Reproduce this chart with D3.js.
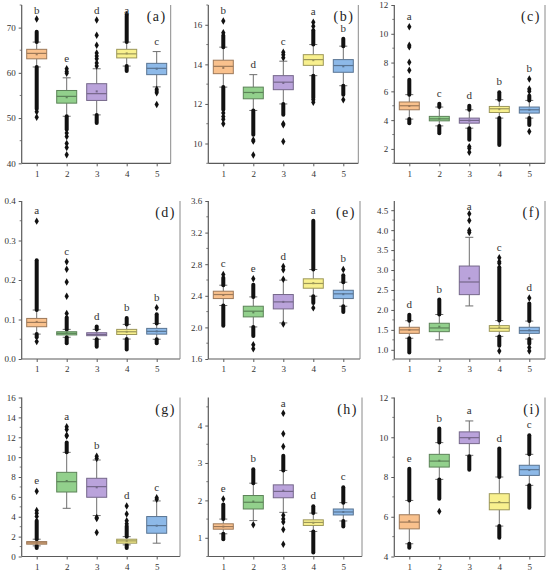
<!DOCTYPE html>
<html>
<head>
<meta charset="utf-8">
<script src="https://cdn.jsdelivr.net/npm/d3@7"></script>
<style>
  body { margin: 0; background: #fff; }
  text { font-family: "Liberation Serif", "Times New Roman", serif; }
</style>
</head>
<body>
<div id="chart"></div>
<script>
// groups on x axis
var groups = ["1", "2", "3", "4", "5"];
var boxColors = ["#f9c18d", "#92d08c", "#baa3db", "#f8f08e", "#8db9e8"];

var panelNames = ["(a)", "(b)", "(c)", "(d)", "(e)", "(f)", "(g)", "(h)", "(i)"];
var yDomains = [[40, 75], [9, 17], [1, 12], [0, 0.4], [1.6, 3.6], [0.77, 4.73], [0, 16], [0.5, 4.75], [4, 12]];
var yTicks = [
  [40, 50, 60, 70], [10, 12, 14, 16], [2, 4, 6, 8, 10, 12],
  [0, 0.1, 0.2, 0.3, 0.4], [1.6, 2.0, 2.4, 2.8, 3.2, 3.6], [1.0, 1.5, 2.0, 2.5, 3.0, 3.5, 4.0, 4.5],
  [0, 2, 4, 6, 8, 10, 12, 14, 16], [1, 2, 3, 4], [4, 6, 8, 10, 12]
];
var yMinorTicks = [
  [45, 55, 65, 75], [9, 11, 13, 15, 17], [1, 3, 5, 7, 9, 11],
  [0.05, 0.15, 0.25, 0.35], [1.8, 2.2, 2.6, 3.0, 3.4], [0.75, 1.25, 1.75, 2.25, 2.75, 3.25, 3.75, 4.25],
  [1, 3, 5, 7, 9, 11, 13, 15], [0.5, 1.5, 2.5, 3.5, 4.5], [5, 7, 9, 11]
];
var tickFormats = ["d", "d", "d", ".1f", ".1f", ".1f", "d", "d", "d"];

// per group: [whisker low, Q1, median, Q3, whisker high, mean]
var statsA = [[61.3, 63.1, 64.3, 65.2, 66.8, 64.1], [50.4, 53.3, 54.8, 56.1, 58.9, 54.6], [50.7, 53.9, 55.4, 57.6, 60.9, 55.9], [61.5, 63.3, 64.2, 65.2, 66.8, 64.3], [56.9, 59.6, 61.0, 62.1, 64.7, 60.9]];
var runsA = [[[66.8, 69.1], [52.0, 61.3]], [[47.5, 50.4]], [[48.9, 50.7]], [[66.8, 72.6], [60.4, 61.5]], []];
var pointsA = [[71.9, 51.4, 50.2], [59.9, 60.3, 60.9, 46.7, 45.9, 44.4, 43.5, 41.9], [61.5, 62.2, 63.1, 63.7, 64.4, 66.1, 68.3, 71.7], [72.9], [56.4, 56.0, 55.6, 53.0]];
var lettersA = ["b", "e", "d", "a", "c"];

var statsB = [[12.85, 13.53, 13.9, 14.21, 14.87, 13.82], [11.67, 12.26, 12.58, 12.85, 13.48, 12.55], [12.0, 12.72, 13.1, 13.43, 14.16, 13.06], [13.43, 13.95, 14.24, 14.49, 15.0, 14.21], [12.92, 13.6, 13.94, 14.24, 14.92, 13.9]];
var runsB = [[[14.87, 15.46], [11.7, 12.85]], [[10.44, 11.67]], [[11.45, 12.0]], [[15.0, 15.73], [12.3, 13.43]], [[14.92, 15.29], [12.47, 12.92]]];
var pointsB = [[15.6, 16.19, 11.54, 11.37, 11.23, 11.0], [10.18, 10.12, 9.42], [14.33, 14.49, 14.61, 11.0, 10.95, 10.1], [15.93, 16.13, 12.21, 12.08], [12.21]];
var lettersB = ["b", "d", "c", "a", "b"];

var statsC = [[4.07, 4.72, 5.0, 5.26, 5.77, 4.98], [3.6, 3.95, 4.09, 4.26, 4.91, 4.1], [3.44, 3.79, 3.98, 4.14, 4.72, 3.97], [4.14, 4.53, 4.79, 4.95, 5.42, 4.76], [4.14, 4.49, 4.72, 4.91, 5.37, 4.72]];
var runsC = [[[5.77, 6.81], [3.79, 4.07]], [[4.91, 5.14], [3.09, 3.6]], [[4.72, 5.0], [2.63, 3.44]], [[5.42, 5.93], [2.28, 4.14]], [[5.37, 5.7], [3.67, 4.14]]];
var pointsC = [[7.47, 8.02, 9.09, 9.2, 10.49], [], [2.16, 2.05, 1.77], [], [6.0, 6.16, 6.86, 3.21]];
var lettersC = ["a", "c", "d", "b", "b"];

var statsD = [[0.063, 0.0817, 0.0926, 0.1027, 0.124, 0.094], [0.055, 0.061, 0.065, 0.069, 0.075, 0.066], [0.05, 0.059, 0.062, 0.0665, 0.075, 0.062], [0.0505, 0.062, 0.069, 0.075, 0.0876, 0.069], [0.05, 0.063, 0.07, 0.0775, 0.09, 0.07]];
var runsD = [[[0.124, 0.25], [0.055, 0.063]], [[0.075, 0.105], [0.04, 0.055]], [[0.075, 0.082], [0.031, 0.05]], [[0.0876, 0.104], [0.024, 0.0505]], [[0.09, 0.113], [0.04, 0.05]]];
var pointsD = [[0.349, 0.044], [0.115, 0.159, 0.195, 0.227, 0.246], [], [], [0.13]];
var lettersD = ["a", "c", "d", "b", "b"];

var statsE = [[2.277, 2.365, 2.416, 2.458, 2.534, 2.41], [2.006, 2.133, 2.205, 2.268, 2.386, 2.19], [2.057, 2.234, 2.323, 2.416, 2.598, 2.323], [2.395, 2.496, 2.556, 2.615, 2.733, 2.56], [2.268, 2.365, 2.425, 2.47, 2.572, 2.42]];
var runsE = [[[2.534, 2.63], [2.02, 2.277]], [[2.386, 2.54], [1.89, 2.006]], [], [[2.733, 3.35], [2.31, 2.395]], [[2.572, 2.66], [2.196, 2.268]]];
var pointsE = [[2.67], [2.615, 1.78, 1.73], [2.61, 2.73, 2.77, 2.044], [2.247], [2.733]];
var lettersE = ["c", "e", "d", "a", "b"];

var statsF = [[1.29, 1.413, 1.5, 1.565, 1.73, 1.5], [1.25, 1.455, 1.548, 1.666, 1.885, 1.58], [2.1, 2.383, 2.70, 3.1, 3.82, 2.79], [1.337, 1.464, 1.54, 1.607, 1.733, 1.56], [1.27, 1.413, 1.48, 1.565, 1.72, 1.49]];
var runsF = [[[1.73, 1.88], [0.93, 1.29]], [[1.885, 2.26]], [], [[1.733, 3.07], [1.1, 1.337]], [[1.72, 2.16], [1.15, 1.27]]];
var pointsF = [[], [], [3.94, 3.99, 4.24, 4.41], [3.17, 3.21, 3.31, 0.97], [2.3, 1.06, 0.97]];
var lettersF = ["d", "b", "a", "c", "d"];

var statsG = [[1.07, 1.24, 1.37, 1.5, 1.74, 1.38], [4.85, 6.49, 7.53, 8.47, 10.48, 7.6], [4.12, 5.96, 7.03, 7.87, 9.71, 6.96], [1.17, 1.34, 1.57, 1.74, 2.0, 1.57], [1.34, 2.34, 3.11, 4.02, 5.59, 3.1]];
var runsG = [[[1.74, 3.61], [0.85, 1.07]], [[10.48, 11.48]], [], [[2.0, 3.08], [0.85, 1.17]], []];
var pointsG = [[4.02, 4.35, 4.62, 6.56], [12.12, 12.2, 12.79, 13.05], [9.87, 10.1, 3.92, 3.82, 2.41], [3.3, 3.6, 4.28, 5.09], [5.76, 5.92]];
var lettersG = ["e", "a", "b", "d", "c"];

var statsH = [[1.107, 1.23, 1.30, 1.374, 1.5, 1.3], [1.46, 1.77, 1.95, 2.13, 2.46, 1.97], [1.68, 2.07, 2.24, 2.415, 2.8, 2.26], [1.17, 1.33, 1.41, 1.48, 1.66, 1.4], [1.45, 1.61, 1.69, 1.77, 1.94, 1.69]];
var runsH = [[[1.5, 1.89], [0.96, 1.107]], [[2.46, 2.83]], [[2.8, 3.19]], [[1.66, 1.84], [0.61, 1.17]], [[1.94, 2.35], [1.3, 1.45]]];
var pointsH = [[2.04], [1.347], [3.44, 3.78, 4.33, 1.6, 1.5, 1.42, 1.22, 0.83], [], []];
var lettersH = ["e", "b", "a", "d", "c"];

var statsI = [[4.64, 5.39, 5.73, 6.1, 6.82, 5.78], [7.88, 8.5, 8.8, 9.14, 9.73, 8.82], [9.09, 9.68, 9.98, 10.27, 10.82, 9.93], [5.53, 6.35, 6.71, 7.16, 8.0, 6.74], [7.58, 8.08, 8.37, 8.59, 9.14, 8.35]];
var runsI = [[[6.82, 8.42], [4.44, 4.64]], [[9.73, 10.44], [6.9, 7.88]], [[8.37, 9.04]], [[8.0, 9.43], [4.94, 5.53]], [[9.14, 10.1], [6.45, 7.58]]];
var pointsI = [[], [6.27], [], [], []];
var lettersI = ["e", "b", "a", "d", "c"];

var allStats = [statsA, statsB, statsC, statsD, statsE, statsF, statsG, statsH, statsI];
var allRuns = [runsA, runsB, runsC, runsD, runsE, runsF, runsG, runsH, runsI];
var allPoints = [pointsA, pointsB, pointsC, pointsD, pointsE, pointsF, pointsG, pointsH, pointsI];
var allLetters = [lettersA, lettersB, lettersC, lettersD, lettersE, lettersF, lettersG, lettersH, lettersI];

// layout of the 3x3 grid
var colLeft = [21.7, 208.3, 394.3];
var panelRight = [170.7, 358.3, 545, 180, 360, 545, 180, 362, 545];
var rowTop = [5, 201, 397.5];
var rowBottom = [163.3, 359, 556.5];

function drawPanel(svg, p) {
  var axisColor = "#5a5a5a";
  var col = p % 3, row = Math.floor(p / 3);
  var x0 = colLeft[col], x1 = panelRight[p];
  var y0 = rowTop[row], y1 = rowBottom[row];

  var x = d3.scalePoint().domain(groups).range([x0, x0 + 150]).padding(0.5);
  var y = d3.scaleLinear().domain(yDomains[p]).range([y1, y0]);

  var g = svg.append("g");

  // left axis
  var yAxis = d3.axisLeft(y).tickValues(yTicks[p]).tickSize(3).tickPadding(3)
                .tickFormat(d3.format(tickFormats[p]));
  var ya = g.append("g").attr("transform", "translate(" + x0 + ",0)").call(yAxis);
  ya.select(".domain").remove();
  ya.selectAll("line").attr("stroke", axisColor);
  ya.selectAll("text").attr("font-size", "9px").attr("fill", "#333")
    .attr("font-family", "Liberation Serif, serif");

  g.selectAll(".minor").data(yMinorTicks[p]).enter().append("line")
   .attr("x1", x0 - 2).attr("x2", x0)
   .attr("y1", function (d) { return y(d); }).attr("y2", function (d) { return y(d); })
   .attr("stroke", axisColor).attr("stroke-width", 0.8);

  // bottom axis
  var xAxis = d3.axisBottom(x).tickSize(3).tickPadding(4);
  var xa = g.append("g").attr("transform", "translate(0," + y1 + ")").call(xAxis);
  xa.select(".domain").remove();
  xa.selectAll("line").attr("stroke", axisColor);
  xa.selectAll("text").attr("font-size", "9px").attr("fill", "#333")
    .attr("font-family", "Liberation Serif, serif");

  // frame: left, bottom and right lines
  g.append("line").attr("x1", x0).attr("x2", x0).attr("y1", y0).attr("y2", y1)
   .attr("stroke", axisColor).attr("stroke-width", 1.2);
  g.append("line").attr("x1", x0).attr("x2", x1).attr("y1", y1).attr("y2", y1)
   .attr("stroke", axisColor).attr("stroke-width", 1.2);
  g.append("line").attr("x1", x1).attr("x2", x1).attr("y1", y0).attr("y2", y1)
   .attr("stroke", "#8a8a8a").attr("stroke-width", 1);

  var stats = allStats[p], runs = allRuns[p], pts = allPoints[p], letters = allLetters[p];
  var bw = 20, cap = 8;

  groups.forEach(function (grp, i) {
    var s = stats[i];
    var cx = x(grp);
    var fill = boxColors[i];
    var edge = d3.color(fill).darker(1.3).formatHex();

    // whiskers
    g.append("line").attr("x1", cx).attr("x2", cx).attr("y1", y(s[4])).attr("y2", y(s[3]))
     .attr("stroke", "#6e6e6e").attr("stroke-width", 1);
    g.append("line").attr("x1", cx).attr("x2", cx).attr("y1", y(s[1])).attr("y2", y(s[0]))
     .attr("stroke", "#6e6e6e").attr("stroke-width", 1);
    g.append("line").attr("x1", cx - cap / 2).attr("x2", cx + cap / 2).attr("y1", y(s[4])).attr("y2", y(s[4]))
     .attr("stroke", "#6e6e6e").attr("stroke-width", 1);
    g.append("line").attr("x1", cx - cap / 2).attr("x2", cx + cap / 2).attr("y1", y(s[0])).attr("y2", y(s[0]))
     .attr("stroke", "#6e6e6e").attr("stroke-width", 1);

    // dense outlier runs
    runs[i].forEach(function (r) {
      g.append("line").attr("x1", cx).attr("x2", cx)
       .attr("y1", y(r[0])).attr("y2", y(r[1]))
       .attr("stroke", "#111").attr("stroke-width", 4).attr("stroke-linecap", "round");
    });

    // box
    g.append("rect")
     .attr("x", cx - bw / 2).attr("width", bw)
     .attr("y", y(s[3])).attr("height", Math.max(1, y(s[1]) - y(s[3])))
     .attr("fill", fill).attr("stroke", edge).attr("stroke-width", 1);
    g.append("line").attr("x1", cx - bw / 2).attr("x2", cx + bw / 2)
     .attr("y1", y(s[2])).attr("y2", y(s[2]))
     .attr("stroke", edge).attr("stroke-width", 1.2);
    g.append("rect").attr("x", cx - 1).attr("y", y(s[5]) - 1).attr("width", 2).attr("height", 2)
     .attr("fill", edge);

    // single outliers
    g.selectAll(null).data(pts[i]).enter().append("path")
     .attr("d", d3.symbol(d3.symbolDiamond, 16))
     .attr("transform", function (d) { return "translate(" + cx + "," + y(d) + ")"; })
     .attr("fill", "#111");

    // significance letter above the highest mark
    var maxV = d3.max([s[4]].concat(pts[i], runs[i].map(function (r) { return r[1]; })));
    var ly = Math.max(y0 + 9, y(maxV) - 7);
    g.append("text").attr("x", cx).attr("y", ly)
     .attr("text-anchor", "middle").attr("font-size", "11px").attr("fill", "#333")
     .text(letters[i]);
  });

  // panel label
  g.append("text").attr("x", x1 - 4).attr("y", y0 + 16)
   .attr("text-anchor", "end").attr("font-size", "14px").attr("fill", "#222")
   .attr("letter-spacing", "1.5px")
   .text(panelNames[p]);
}

var chartSvg = d3.select("#chart").append("svg")
                 .attr("width", 550)
                 .attr("height", 574);

for (var k = 0; k < 9; k++) {
  drawPanel(chartSvg, k);
}
</script>
</body>
</html>
